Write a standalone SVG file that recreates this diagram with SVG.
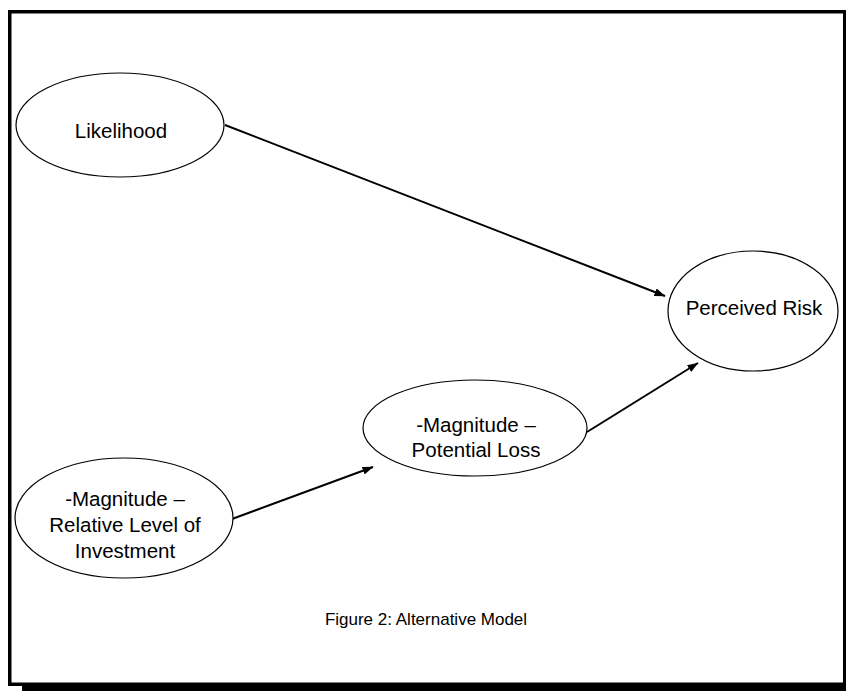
<svg xmlns="http://www.w3.org/2000/svg" width="846" height="691" viewBox="0 0 846 691">
<defs>
<style>
.node ellipse{fill:#fff;stroke:#000;stroke-width:1.2}
text{font-family:"Liberation Sans",Arial,sans-serif;font-size:20.5px;fill:#000;text-anchor:middle}
.conn line{stroke:#000;stroke-width:2}
</style>
<marker id="arr" markerUnits="userSpaceOnUse" markerWidth="12" markerHeight="10" refX="10.5" refY="5" orient="auto">
<path d="M0,1 L11,5 L0,9 Z" fill="#000"/>
</marker>
</defs>
<rect x="0" y="0" width="846" height="691" fill="#fff"/>
<rect id="shadow" x="22" y="686" width="824" height="5" fill="#000"/>
<rect id="frame" x="9.75" y="11.75" width="835" height="672.5" fill="none" stroke="#000" stroke-width="3.5"/>
<g class="conn" id="connectors">
<line x1="225" y1="125" x2="665" y2="296" marker-end="url(#arr)"/>
<line x1="232" y1="519" x2="373" y2="467" marker-end="url(#arr)"/>
<line x1="587" y1="432" x2="698" y2="363" marker-end="url(#arr)"/>
</g>
<g class="node" id="likelihood">
<ellipse cx="120" cy="125" rx="104" ry="52"/>
<text x="121" y="138">Likelihood</text>
</g>
<g class="node" id="perceived-risk">
<ellipse cx="753" cy="311" rx="85" ry="60"/>
<text x="754" y="315">Perceived Risk</text>
</g>
<g class="node" id="potential-loss">
<ellipse cx="475" cy="428" rx="112" ry="48"/>
<text x="476" y="432">-Magnitude –</text>
<text x="476" y="457">Potential Loss</text>
</g>
<g class="node" id="investment">
<ellipse cx="124" cy="518" rx="109" ry="60"/>
<text x="125" y="506">-Magnitude –</text>
<text x="125" y="532">Relative Level of</text>
<text x="125" y="558">Investment</text>
</g>
<text id="caption" x="426" y="625" style="font-size:17px">Figure 2: Alternative Model</text>
</svg>
